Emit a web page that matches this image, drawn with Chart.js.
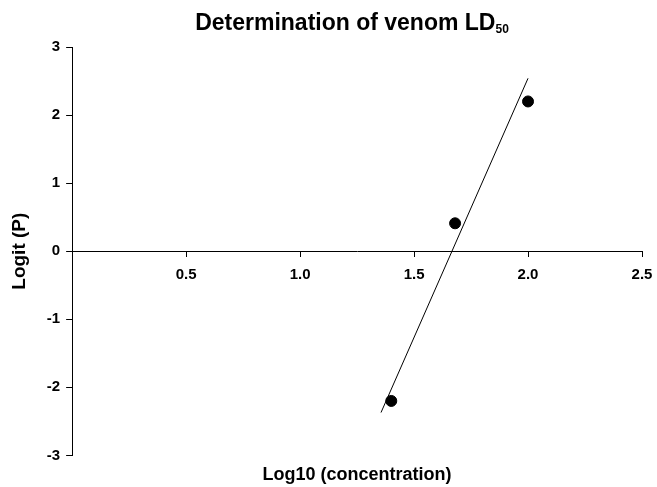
<!DOCTYPE html>
<html>
<head>
<meta charset="utf-8">
<script src="https://cdn.jsdelivr.net/npm/chart.js@4.4.1/dist/chart.umd.min.js"></script>
<style>
  html, body { margin: 0; padding: 0; background: #fff; }
  #wrap { position: relative; width: 657px; height: 487px; }
  #title {
    position: absolute; left: 0; top: 9px; width: 704px; text-align: center;
    font: bold 23px "Liberation Sans", Arial, sans-serif; color: #000;
  }
  #title sub { font-size: 12px; vertical-align: -3px; }
</style>
</head>
<body>
<div id="wrap">
  <div id="title">Determination of venom LD<sub>50</sub></div>
  <canvas id="ld50Chart" width="657" height="487"></canvas>
</div>
<script>
// observed points
const logConc = [1.4, 1.68, 2.0]
const logitP = [-2.2, 0.41, 2.2]
// fitted regression line ends
const fitX = [1.355, 2.0]
const fitY = [-2.37, 2.54]

const xTicks = [0, 0.5, 1.0, 1.5, 2.0, 2.5]
const yTicks = [-3, -2, -1, 0, 1, 2, 3]

const xLabel = 'Log10 (concentration)'
const yLabel = 'Logit (P)'

const font = "'Liberation Sans', Arial, sans-serif"

// the last x label may hang past the plot, like in the original
function noSidePadding(scale) {
    scale.paddingLeft = 0
    scale.paddingRight = 0
}

document.addEventListener("DOMContentLoaded", function () {
    const ctx = document.getElementById('ld50Chart').getContext('2d')

    new Chart(ctx, {
        type: 'scatter',
        data: {
            datasets: [{
                data: logConc.map((x, i) => ({ x: x, y: logitP[i] })),
                backgroundColor: '#000',
                borderColor: '#000',
                pointRadius: 5.5,
                pointHoverRadius: 5.5
            }, {
                type: 'line',
                data: fitX.map((x, i) => ({ x: x, y: fitY[i] })),
                borderColor: '#000',
                borderWidth: 1,
                pointRadius: 0,
                fill: false
            }]
        },
        options: {
            responsive: false,
            animation: false,
            layout: {
                padding: { top: 47, right: 15, left: 8, bottom: 0 }
            },
            plugins: {
                legend: { display: false },
                tooltip: { enabled: false }
            },
            scales: {
                x: {
                    type: 'linear',
                    position: { y: 0 },
                    min: 0,
                    max: 2.5,
                    afterBuildTicks: function (axis) {
                        axis.ticks = xTicks.map(v => ({ value: v }))
                    },
                    afterFit: noSidePadding,
                    grid: {
                        drawOnChartArea: false,
                        drawTicks: true,
                        tickLength: 5,
                        color: '#000'
                    },
                    border: { display: true, color: '#000', width: 1 },
                    ticks: {
                        color: '#000',
                        padding: 10,
                        font: { family: font, size: 15, weight: 'bold' },
                        callback: v => v === 0 ? '' : v.toFixed(1)
                    }
                },
                xTitle: {
                    type: 'linear',
                    axis: 'x',
                    position: 'bottom',
                    min: 0,
                    max: 2.5,
                    afterFit: noSidePadding,
                    grid: { display: false },
                    border: { display: false },
                    ticks: { display: false },
                    title: {
                        display: true,
                        text: xLabel,
                        color: '#000',
                        padding: { top: 1, bottom: 1 },
                        font: { family: font, size: 18, weight: 'bold' }
                    }
                },
                y: {
                    type: 'linear',
                    position: 'left',
                    min: -3,
                    max: 3,
                    afterBuildTicks: function (axis) {
                        axis.ticks = yTicks.map(v => ({ value: v }))
                    },
                    grid: {
                        drawOnChartArea: false,
                        drawTicks: true,
                        tickLength: 6,
                        color: '#000'
                    },
                    border: { display: true, color: '#000', width: 1 },
                    ticks: {
                        color: '#000',
                        padding: 6,
                        font: { family: font, size: 15, weight: 'bold' }
                    },
                    title: {
                        display: true,
                        text: yLabel,
                        color: '#000',
                        padding: { top: 0, bottom: 10 },
                        font: { family: font, size: 19, weight: 'bold' }
                    }
                }
            }
        }
    })
})
</script>
</body>
</html>
